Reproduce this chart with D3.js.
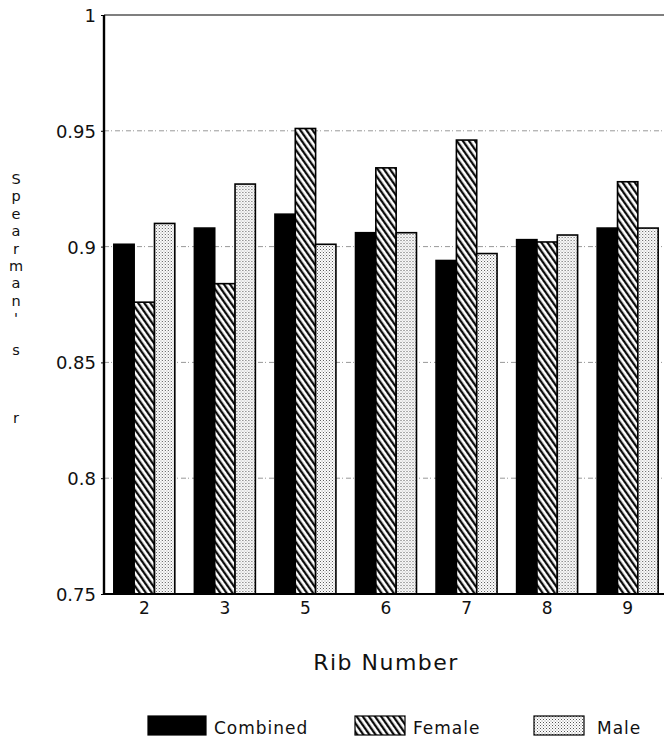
<!DOCTYPE html>
<html>
<head>
<meta charset="utf-8">
<script src="https://cdn.jsdelivr.net/npm/d3@7"></script>
<style>
  body { margin: 0; background: #fff; }
  text { font-family: "DejaVu Sans", sans-serif; fill: #111; }
</style>
</head>
<body>
<script>
// data
var ribs = ["2", "3", "5", "6", "7", "8", "9"];
var series = ["Combined", "Female", "Male"];
var combined = [0.901, 0.908, 0.914, 0.906, 0.894, 0.903, 0.908];
var female = [0.876, 0.884, 0.951, 0.934, 0.946, 0.902, 0.928];
var male = [0.910, 0.927, 0.901, 0.906, 0.897, 0.905, 0.908];
var yTicks = [0.75, 0.8, 0.85, 0.9, 0.95, 1];
var yLetters = ["S", "p", "e", "a", "r", "m", "a", "n", "'", "s", "r"];

var width = 664, height = 743;
var plotLeft = 104, plotTop = 15, plotBottom = 594, plotRight = 668;

var svg = d3.select("body").append("svg")
  .attr("width", width)
  .attr("height", height);

// patterns
var defs = svg.append("defs");
var hatch = defs.append("pattern")
  .attr("id", "hatch")
  .attr("patternUnits", "userSpaceOnUse")
  .attr("width", 5).attr("height", 5)
  .attr("patternTransform", "rotate(-35)");
hatch.append("rect").attr("width", 5).attr("height", 5).attr("fill", "#fff");
hatch.append("line")
  .attr("x1", 1.2).attr("y1", 0).attr("x2", 1.2).attr("y2", 5)
  .attr("stroke", "#000").attr("stroke-width", 2.2);

var dots = defs.append("pattern")
  .attr("id", "dots")
  .attr("patternUnits", "userSpaceOnUse")
  .attr("width", 3).attr("height", 3);
dots.append("rect").attr("width", 3).attr("height", 3).attr("fill", "#fff");
dots.append("rect").attr("x", 0).attr("y", 0).attr("width", 1).attr("height", 1).attr("fill", "#555");
dots.append("rect").attr("x", 1.5).attr("y", 1.5).attr("width", 1).attr("height", 1).attr("fill", "#888");

var fills = {Combined: "#000", Female: "url(#hatch)", Male: "url(#dots)"};
var values = {Combined: combined, Female: female, Male: male};

var x0 = d3.scaleBand().domain(ribs).range([plotLeft, plotRight]).paddingInner(0.243).paddingOuter(0.122);
var x1 = d3.scaleBand().domain(series).range([0, x0.bandwidth()]);
var y = d3.scaleLinear().domain([0.75, 1]).range([plotBottom, plotTop]);

// grid
svg.append("g")
  .selectAll("line")
  .data(yTicks.filter(function (d) { return d > 0.75 && d < 1; }))
  .enter().append("line")
  .attr("x1", plotLeft).attr("x2", width)
  .attr("y1", function (d) { return y(d); })
  .attr("y2", function (d) { return y(d); })
  .attr("stroke", "#999")
  .attr("stroke-width", 1)
  .attr("stroke-dasharray", "5,2,1,3");

// top border
svg.append("line")
  .attr("x1", plotLeft).attr("x2", width)
  .attr("y1", plotTop).attr("y2", plotTop)
  .attr("stroke", "#555").attr("stroke-width", 1.5);

// bars
var groups = svg.append("g")
  .selectAll("g")
  .data(ribs)
  .enter().append("g")
  .attr("transform", function (d) { return "translate(" + x0(d) + ",0)"; });

groups.selectAll("rect")
  .data(function (d, i) {
    return series.map(function (s) { return {s: s, v: values[s][i]}; });
  })
  .enter().append("rect")
  .attr("x", function (d) { return x1(d.s); })
  .attr("width", x1.bandwidth())
  .attr("y", function (d) { return y(d.v); })
  .attr("height", function (d) { return y(0.75) - y(d.v); })
  .attr("fill", function (d) { return fills[d.s]; })
  .attr("stroke", "#000")
  .attr("stroke-width", 1.6);

// axes
var yAxis = svg.append("g")
  .attr("transform", "translate(" + plotLeft + ",0)")
  .call(d3.axisLeft(y).tickValues(yTicks).tickSize(3).tickFormat(d3.format("")));
yAxis.select(".domain").attr("stroke-width", 2.4).attr("d", "M0," + plotTop + "V" + plotBottom);
yAxis.selectAll("text").attr("font-size", 18).attr("x", -8).attr("dy", "0.36em")
  .style("font-family", "DejaVu Sans, sans-serif");

var xAxis = svg.append("g")
  .attr("transform", "translate(0," + plotBottom + ")")
  .call(d3.axisBottom(x0).tickSize(0).tickPadding(8));
xAxis.select(".domain").attr("stroke-width", 2.2).attr("d", "M" + plotLeft + ",0H" + width);
xAxis.selectAll("text").attr("font-size", 17).style("font-family", "DejaVu Sans, sans-serif");

// axis titles
svg.append("text")
  .attr("x", (plotLeft + width) / 2 + 2)
  .attr("y", 670)
  .attr("text-anchor", "middle")
  .attr("font-size", 22)
  .attr("letter-spacing", 1.5)
  .text("Rib Number");

svg.append("g")
  .selectAll("text")
  .data(yLetters)
  .enter().append("text")
  .attr("x", 16)
  .attr("y", function (d, i) {
    if (i < 9) return 184 + i * 17.4;
    return i === 9 ? 355 : 423;
  })
  .attr("text-anchor", "middle")
  .attr("font-size", 14.5)
  .text(function (d) { return d; });

// legend
var legendX = [148, 355, 534];
var legend = svg.append("g")
  .selectAll("g")
  .data(series)
  .enter().append("g")
  .attr("transform", function (d, i) { return "translate(" + legendX[i] + ",716)"; });
legend.append("rect")
  .attr("width", function (d, i) { return i === 0 ? 58 : 50; })
  .attr("height", 19)
  .attr("fill", function (d) { return fills[d]; })
  .attr("stroke", "#000")
  .attr("stroke-width", 1.2);
legend.append("text")
  .attr("x", function (d, i) { return i === 0 ? 66 : (i === 1 ? 58 : 63); })
  .attr("y", 18)
  .attr("font-size", 17)
  .attr("letter-spacing", 1)
  .text(function (d) { return d; });
</script>
</body>
</html>
